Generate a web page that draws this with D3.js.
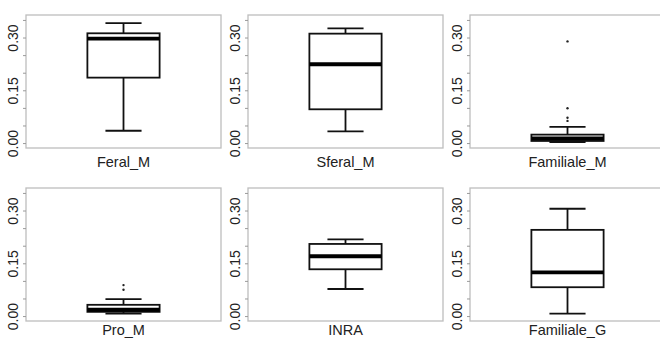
<!DOCTYPE html>
<html><head><meta charset="utf-8">
<script src="https://cdn.jsdelivr.net/npm/d3@7/dist/d3.min.js"></script>
<style>body{margin:0;background:#fff}svg{display:block}</style>
</head><body>
<svg id="c" width="660" height="338"></svg>
<script>
const categories = ["Feral_M","Sferal_M","Familiale_M","Pro_M","INRA","Familiale_G"];
const whiskerLow  = [0.035, 0.033, 0.003, 0.007, 0.077, 0.007];
const q1          = [0.186, 0.096, 0.006, 0.012, 0.133, 0.082];
const median      = [0.297, 0.224, 0.013, 0.018, 0.170, 0.124];
const q3          = [0.312, 0.311, 0.024, 0.032, 0.205, 0.245];
const whiskerHigh = [0.341, 0.326, 0.046, 0.048, 0.218, 0.305];
const outliers    = [[], [], [0.289, 0.099, 0.072, 0.063], [0.088, 0.075], [], []];
const yTicks = [0, 0.05, 0.10, 0.15, 0.20, 0.25, 0.30, 0.35];
const yLabelTicks = [0, 0.15, 0.30];

const svg = d3.select("#c");
const colX = [26, 248, 470], rowY = [15, 188];
const W = 195, H = 133;

categories.forEach((cat, i) => {
  const row = Math.floor(i / 3);
  const px = colX[i % 3], py = rowY[row];
  const g = svg.append("g").attr("transform", `translate(${px},${py})`);
  const x = d3.scaleLinear().domain([0.46, 1.54]).range([0, W]);
  const y = d3.scaleLinear().domain([-0.014, 0.364]).range([H, 0]);

  // frame
  g.append("rect").attr("x", 0).attr("y", 0).attr("width", W).attr("height", H)
    .attr("fill", "none").attr("stroke", "#bdbdbd").attr("stroke-width", 1.3);

  // y axis
  const ax = d3.axisLeft(y).tickValues(yTicks).tickSize(3).tickFormat("");
  const axG = g.append("g").call(ax);
  axG.select(".domain").remove();
  axG.selectAll(".tick line").attr("stroke", "#9a9a9a");
  axG.selectAll(".tick").filter(d => yLabelTicks.some(t => Math.abs(t - d) < 1e-9))
    .append("text")
    .attr("transform", "rotate(-90)")
    .attr("x", 0).attr("y", -8)
    .attr("text-anchor", "middle")
    .attr("fill", "#222")
    .style("font-family", "Liberation Sans, Arial, sans-serif")
    .style("font-size", "14px")
    .text(d => d3.format(".2f")(d));

  const cx = x(1);
  const lw = 1.8;
  // whiskers
  g.append("line").attr("x1", cx).attr("x2", cx).attr("y1", y(whiskerHigh[i])).attr("y2", y(q3[i]))
    .attr("stroke", "#111").attr("stroke-width", lw);
  g.append("line").attr("x1", cx).attr("x2", cx).attr("y1", y(whiskerLow[i])).attr("y2", y(q1[i]))
    .attr("stroke", "#111").attr("stroke-width", lw);
  [whiskerHigh[i], whiskerLow[i]].forEach(v => {
    g.append("line").attr("x1", x(0.9)).attr("x2", x(1.1)).attr("y1", y(v)).attr("y2", y(v))
      .attr("stroke", "#111").attr("stroke-width", lw);
  });
  // box
  g.append("rect").attr("x", x(0.8)).attr("width", x(1.2) - x(0.8))
    .attr("y", y(q3[i])).attr("height", y(q1[i]) - y(q3[i]))
    .attr("fill", "#fff").attr("stroke", "#111").attr("stroke-width", lw);
  // median
  g.append("line").attr("x1", x(0.8)).attr("x2", x(1.2)).attr("y1", y(median[i])).attr("y2", y(median[i]))
    .attr("stroke", "#000").attr("stroke-width", 3.8);
  // outliers
  g.selectAll(".out").data(outliers[i]).enter().append("circle")
    .attr("cx", cx).attr("cy", d => y(d)).attr("r", 1.2).attr("fill", "#222");

  // x label
  g.append("text").attr("x", cx).attr("y", row === 0 ? H + 19 : H + 14)
    .attr("text-anchor", "middle").attr("fill", "#222")
    .style("font-family", "Liberation Sans, Arial, sans-serif")
    .style("font-size", "14.5px")
    .text(cat);
});
</script>
</body></html>
